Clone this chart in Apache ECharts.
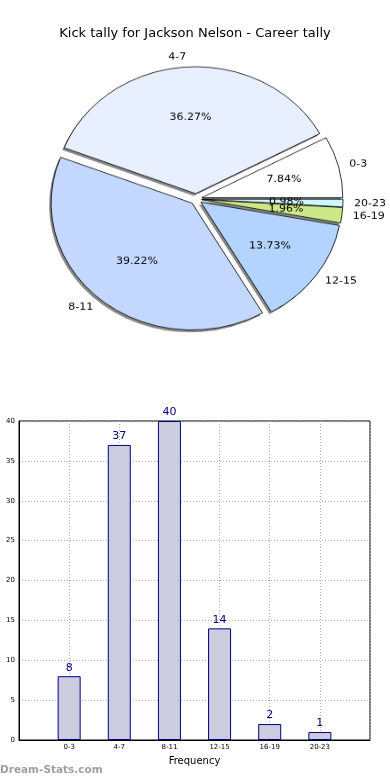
<!DOCTYPE html>
<html>
<head>
<meta charset="utf-8">
<script src="https://cdn.jsdelivr.net/npm/echarts@6/dist/echarts.min.js"></script>
<style>
html,body{margin:0;padding:0;background:#fff;}
#bar{position:absolute;left:0;top:0;width:390px;height:780px;}
#pie{position:absolute;left:0;top:0;width:390px;height:400px;transform:scaleY(0.9);transform-origin:196px 199px;}
</style>
</head>
<body>
<div id="bar"></div>
<div id="pie"></div>
<script>
const titleText = 'Kick tally for Jackson Nelson - Career tally';
const categories = ['0-3', '4-7', '8-11', '12-15', '16-19', '20-23'];
const values = [8, 37, 40, 14, 2, 1];
const pieColors = ['#ffffff', '#e8f0ff', '#c4d8ff', '#b2d4ff', '#cce888', '#ccf8ff'];
const yTicks = [0, 5, 10, 15, 20, 25, 30, 35, 40];
const xAxisName = 'Frequency';
const watermark = 'Dream-Stats.com';

const FONT = 'DejaVu Sans';
const total = values.reduce((a, b) => a + b, 0);
const pct = values.map(v => (v / total * 100).toFixed(2) + '%');

const R = 141;
const CENTER = [196, 199];
const SHADOW_CENTER = [CENTER[0] - 2, CENTER[1] + 2.5];
const OFFSET = 6;

const common = {
  type: 'pie',
  startAngle: 0,
  clockwise: false,
  selectedMode: 'multiple',
  selectedOffset: OFFSET,
  avoidLabelOverlap: false,
  silent: true,
  labelLayout: {hideOverlap: false}
};

const pieChart = echarts.init(document.getElementById('pie'), null, {renderer: 'canvas'});
pieChart.setOption({
  animation: false,
  series: [
    Object.assign({}, common, {
      center: SHADOW_CENTER,
      radius: R,
      itemStyle: {color: '#8a8a8a', borderWidth: 0},
      select: {itemStyle: {color: '#8a8a8a', borderWidth: 0}},
      label: {show: false},
      labelLine: {show: false},
      data: categories.map((c, i) => ({name: c, value: values[i], selected: true}))
    }),
    Object.assign({}, common, {
      center: CENTER,
      radius: R,
      itemStyle: {borderColor: '#000', borderWidth: 0.8},
      label: {
        show: true,
        position: 'outside',
        fontFamily: FONT,
        fontSize: 11,
        color: '#000',
        distanceToLabelLine: 0,
        formatter: p => p.name
      },
      labelLine: {show: false, length: 11, length2: 0},
      select: {itemStyle: {borderColor: '#000', borderWidth: 0.8}},
      data: categories.map((c, i) => ({
        name: c, value: values[i], selected: true,
        itemStyle: {color: pieColors[i]},
        select: {itemStyle: {color: pieColors[i]}}
      }))
    }),
    Object.assign({}, common, {
      center: CENTER,
      radius: [0.2 * R - 6, R],
      itemStyle: {color: 'rgba(0,0,0,0)', borderWidth: 0},
      select: {itemStyle: {color: 'rgba(0,0,0,0)', borderWidth: 0}},
      label: {
        show: true,
        position: 'inside',
        fontFamily: FONT,
        fontSize: 11,
        color: '#000',
        formatter: p => pct[p.dataIndex]
      },
      labelLine: {show: false},
      data: categories.map((c, i) => ({name: c, value: values[i], selected: true}))
    })
  ]
});

const barChart = echarts.init(document.getElementById('bar'), null, {renderer: 'canvas'});
barChart.setOption({
  animation: false,
  title: {
    text: titleText,
    left: 'center',
    top: 22,
    textStyle: {fontFamily: FONT, fontSize: 13, fontWeight: 'normal', color: '#000'}
  },
  grid: {
    left: 19, right: 20, top: 421, bottom: 40,
    show: true, borderColor: '#000', borderWidth: 1, backgroundColor: 'transparent'
  },
  xAxis: {
    type: 'value',
    min: -1, max: 6, interval: 1,
    name: xAxisName,
    nameLocation: 'middle',
    nameGap: 16,
    nameTextStyle: {fontFamily: FONT, fontSize: 10, color: '#000'},
    axisLine: {show: true, onZero: false, lineStyle: {color: '#000', width: 1}},
    axisTick: {show: false},
    axisLabel: {
      fontFamily: FONT, fontSize: 7, color: '#000', margin: 4,
      formatter: v => (categories[v] !== undefined ? categories[v] : '')
    },
    splitLine: {show: true, lineStyle: {color: '#aaa', type: [1, 2], width: 1}}
  },
  yAxis: {
    type: 'value',
    min: yTicks[0], max: yTicks[yTicks.length - 1], interval: 5,
    axisLine: {show: true, onZero: false, lineStyle: {color: '#000', width: 1}},
    axisTick: {show: false},
    axisLabel: {fontFamily: FONT, fontSize: 7, color: '#000', margin: 4},
    splitLine: {show: true, lineStyle: {color: '#aaa', type: [1, 2], width: 1}}
  },
  series: [{
    type: 'bar',
    barWidth: 23,
    data: categories.map((c, i) => [i, values[i]]),
    itemStyle: {color: '#ccccdf', borderColor: '#000080', borderWidth: 1},
    label: {
      show: true, position: 'top', distance: 3,
      fontFamily: FONT, fontSize: 11, color: '#000080',
      formatter: p => String(p.value[1])
    },
    z: 1
  }],
  graphic: [{
    type: 'text',
    left: 0,
    top: 765,
    style: {text: watermark, fontFamily: FONT, fontSize: 10.5, fontWeight: 'bold', fill: '#a0a0a0'}
  }]
});
</script>
</body>
</html>
